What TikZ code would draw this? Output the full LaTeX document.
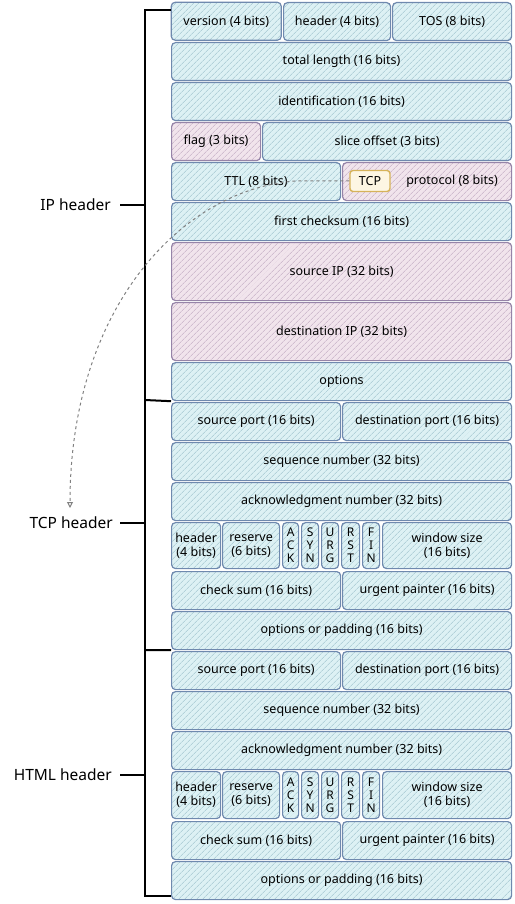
\documentclass[tikz,border=0pt]{standalone}
\usepackage{fontspec}
\setmainfont{Noto Sans}
\usetikzlibrary{patterns.meta,arrows.meta}
\definecolor{cyanfill}{HTML}{DDF1F4}
\definecolor{cyanhatch}{HTML}{9CC0CB}
\definecolor{cyanborder}{HTML}{6F89AE}
\definecolor{pinkfill}{HTML}{F1E4EC}
\definecolor{pinkhatch}{HTML}{BFA8C0}
\definecolor{pinkborder}{HTML}{9684A8}
\definecolor{tcpborder}{HTML}{D6B35A}
\definecolor{tcpfill}{HTML}{FDF6E3}
\definecolor{dashgray}{HTML}{808080}
\tikzset{
  base/.style={line width=1.2pt, rounded corners=4pt, inner sep=0pt, align=center,
    font=\fontsize{12.5}{14}\selectfont, text=black},
  cyancell/.style={base, draw=cyanborder, preaction={fill=cyanfill},
    pattern={Lines[angle=45,distance=4pt,line width=0.5pt]}, pattern color=cyanhatch},
  pinkcell/.style={base, draw=pinkborder, preaction={fill=pinkfill},
    pattern={Lines[angle=45,distance=4pt,line width=0.5pt]}, pattern color=pinkhatch},
  flagcell/.style={cyancell, font=\fontsize{12}{13}\selectfont},
  tcpbox/.style={draw=tcpborder, fill=tcpfill, line width=1.4pt, rounded corners=3pt,
    inner sep=0pt, minimum width=40pt, minimum height=21pt, font=\fontsize{12.5}{14}\selectfont},
  bracket/.style={line width=2pt, draw=black},
  sidelabel/.style={font=\fontsize{15.5}{18}\selectfont, anchor=east, inner sep=0pt},
  conn/.style={draw=dashgray, dashed, line width=1pt},
}
\newcommand\cell[7]{\node[#2, minimum width={(#5-#3)*1pt}, minimum height={(#6-#4)*1pt}, anchor=north west] (#1) at (#3,#4) {#7};}
\begin{document}
\begin{tikzpicture}[x=1pt,y=-1pt]
\useasboundingbox (0,0) rectangle (514,904);
% ---------- IP header ----------
\cell{ver}{cyancell}{171}{2}{281}{40}{version (4 bits)}
\cell{hdr}{cyancell}{283}{2}{390}{40}{header (4 bits)}
\cell{tos}{cyancell}{392}{2}{511}{40}{TOS (8 bits)}
\cell{tlen}{cyancell}{171}{42}{511}{80}{total length (16 bits)}
\cell{ident}{cyancell}{171}{82}{511}{120}{identification (16 bits)}
\cell{flag}{pinkcell}{171}{122}{260}{160}{flag (3 bits)}
\cell{slice}{cyancell}{262}{122}{511}{160}{slice offset (3 bits)}
\cell{ttl}{cyancell}{171}{162}{340}{200}{TTL (8 bits)}
\cell{proto}{pinkcell}{342}{162}{511}{200}{\hspace*{50pt}protocol (8 bits)}
\node[tcpbox] (tcp) at (370,181) {TCP};
\cell{chk}{cyancell}{171}{202}{511}{240}{first checksum (16 bits)}
\cell{srcip}{pinkcell}{171}{242}{511}{300}{source IP (32 bits)}
\cell{dstip}{pinkcell}{171}{302}{511}{360}{destination IP (32 bits)}
\cell{ipopt}{cyancell}{171}{362}{511}{400}{options}
% ---------- TCP header ----------
\cell{tsp}{cyancell}{171}{402}{340}{440}{source port (16 bits)}
\cell{tdp}{cyancell}{342}{402}{511}{440}{destination port (16 bits)}
\cell{tseq}{cyancell}{171}{442}{511}{480}{sequence number (32 bits)}
\cell{tack}{cyancell}{171}{482}{511}{520}{acknowledgment number (32 bits)}
\cell{thl}{cyancell}{171}{522}{220}{568}{header\\(4 bits)}
\cell{tres}{cyancell}{222}{522}{279}{568}{reserve\\(6 bits)}
\cell{tfa}{flagcell}{282}{522}{298}{568}{A\\C\\K}
\cell{tfs}{flagcell}{301}{522}{318}{568}{S\\Y\\N}
\cell{tfu}{flagcell}{321}{522}{338}{568}{U\\R\\G}
\cell{tfr}{flagcell}{341}{522}{359}{568}{R\\S\\T}
\cell{tff}{flagcell}{362}{522}{379}{568}{F\\I\\N}
\cell{twin}{cyancell}{382}{522}{511}{568}{window size\\(16 bits)}
\cell{tcs}{cyancell}{171}{571}{340}{609}{check sum (16 bits)}
\cell{turg}{cyancell}{342}{571}{511}{609}{urgent painter (16 bits)}
\cell{topt}{cyancell}{171}{611}{511}{649}{options or padding (16 bits)}
% ---------- HTML header ----------
\cell{hsp}{cyancell}{171}{651}{340}{689}{source port (16 bits)}
\cell{hdp}{cyancell}{342}{651}{511}{689}{destination port (16 bits)}
\cell{hseq}{cyancell}{171}{691}{511}{729}{sequence number (32 bits)}
\cell{hack}{cyancell}{171}{731}{511}{769}{acknowledgment number (32 bits)}
\cell{hhl}{cyancell}{171}{771}{220}{818}{header\\(4 bits)}
\cell{hres}{cyancell}{222}{771}{279}{818}{reserve\\(6 bits)}
\cell{hfa}{flagcell}{282}{771}{298}{818}{A\\C\\K}
\cell{hfs}{flagcell}{301}{771}{318}{818}{S\\Y\\N}
\cell{hfu}{flagcell}{321}{771}{338}{818}{U\\R\\G}
\cell{hfr}{flagcell}{341}{771}{359}{818}{R\\S\\T}
\cell{hff}{flagcell}{362}{771}{379}{818}{F\\I\\N}
\cell{hwin}{cyancell}{382}{771}{511}{818}{window size\\(16 bits)}
\cell{hcs}{cyancell}{171}{821}{340}{859}{check sum (16 bits)}
\cell{hurg}{cyancell}{342}{821}{511}{859}{urgent painter (16 bits)}
\cell{hopt}{cyancell}{171}{861}{511}{899}{options or padding (16 bits)}
% ---------- bracket ----------
\coordinate (btop) at (145,10);
\coordinate (bbot) at (145,896);
\coordinate (bip) at (145,205);
\coordinate (btcp) at (145,523);
\coordinate (bhtml) at (145,775);
\coordinate (bsep1) at (145,400);
\coordinate (bsep2) at (145,650);
\draw[bracket] (ver.west |- btop) -- (btop) -- (bbot) -- (hopt.west |- bbot);
\draw[bracket] (bsep1) -- (ipopt.south west);
\draw[bracket] (bsep2) -- (topt.south west);
\node[sidelabel] (lip) at (111,205) {IP header};
\node[sidelabel] (ltcp) at (113,523) {TCP header};
\node[sidelabel] (lhtml) at (112,775) {HTML header};
\draw[bracket] ([xshift=9pt]lip.east) -- (bip);
\draw[bracket] ([xshift=7pt]ltcp.east) -- (btcp);
\draw[bracket] ([xshift=8pt]lhtml.east) -- (bhtml);
% ---------- dashed connector ----------
\coordinate (cbend) at (295,181);
\coordinate (cend) at (70,508);
\draw[conn, -{Triangle[open,length=6pt,width=6pt]}] (tcp.west) -- (cbend) .. controls (180,190) and (70,310) .. (cend);
\end{tikzpicture}
\end{document}
